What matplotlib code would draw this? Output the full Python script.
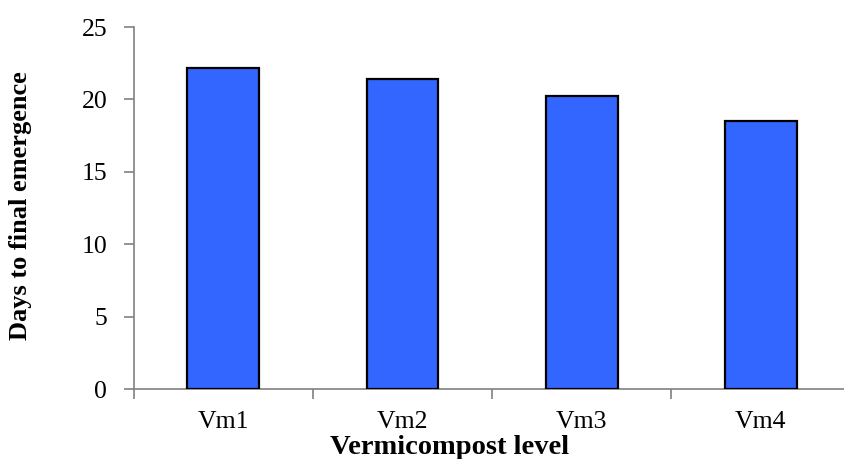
import matplotlib
matplotlib.use("Agg")
import matplotlib.pyplot as plt

categories = ["Vm1", "Vm2", "Vm3", "Vm4"]
days = [22.15, 21.4, 20.25, 18.5]
y_ticks = [0, 5, 10, 15, 20, 25]

plt.rcParams["font.family"] = ["Liberation Serif", "DejaVu Serif"]

fig = plt.figure(figsize=(8.44, 4.59), dpi=100)
ax = fig.add_axes([133.7 / 844, 1 - 389 / 459, (850.5 - 133.7) / 844, (389 - 27) / 459])

x = range(len(categories))
ax.bar(x, days, width=0.4, color="#3366FF", edgecolor="black", linewidth=1.6, zorder=3)

ax.set_xlim(-0.5, len(categories) - 0.5)
ax.set_ylim(0, 25)
ax.set_yticks(y_ticks)
# category boundaries carry the tick marks, centres carry the labels
ax.set_xticks([i + 0.5 for i in range(-1, len(categories))], minor=False)
ax.set_xticklabels([])
ax.set_xticks(list(x), minor=True)
ax.set_xticklabels(categories, minor=True)

axis_grey = "#808080"
for side in ["top", "right"]:
    ax.spines[side].set_visible(False)
for side in ["left", "bottom"]:
    ax.spines[side].set_color(axis_grey)
    ax.spines[side].set_linewidth(1.2)

ax.tick_params(axis="y", which="major", direction="out", length=7, width=1.2,
               color=axis_grey, labelsize=18.5, pad=12)
ax.tick_params(axis="x", which="major", direction="out", length=7, width=1.2,
               color=axis_grey)
ax.tick_params(axis="x", which="minor", length=0, labelsize=18.5, pad=16)

fig.text(450 / 844, 1 - 448 / 459, "Vermicompost level", ha="center", va="center",
         fontsize=20.5, fontweight="bold")
fig.text(21 / 844, 1 - 206 / 459, "Days to final emergence", ha="center", va="center",
         rotation=90, fontsize=19, fontweight="bold")

fig.savefig("out.png", dpi=100)
